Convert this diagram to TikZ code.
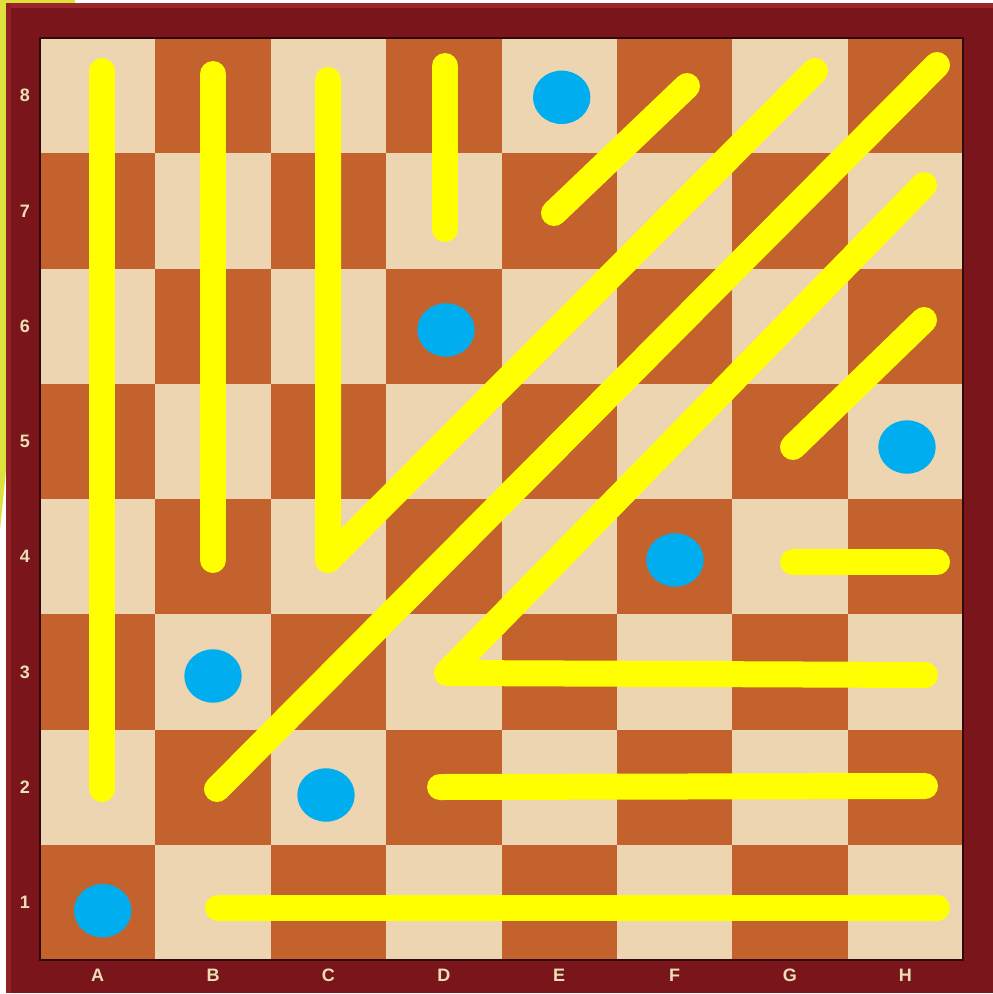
\documentclass[tikz,border=0pt]{standalone}
\usepackage{fontspec}
\setmainfont{Liberation Sans}
\definecolor{lightsq}{HTML}{EDD5B1}
\definecolor{darksq}{HTML}{C4622E}
\definecolor{framec}{HTML}{7A161B}
\definecolor{framelight}{HTML}{9A272C}
\definecolor{markc}{HTML}{FFFF00}
\definecolor{dotc}{HTML}{00AEEF}
\definecolor{edgeyellow}{HTML}{E0E03A}
\definecolor{labelc}{HTML}{EADFB6}
\begin{document}
\begin{tikzpicture}[x=1pt,y=-1pt,
  yline/.style={draw=markc, line width=26pt, line cap=round, line join=round},
  dotmark/.style={fill=dotc},
  lbl/.style={text=labelc, font=\fontsize{18}{18}\selectfont\bfseries, inner sep=0pt}]
\useasboundingbox (0,0) rectangle (993,994);
\fill[white] (0,0) rectangle (993,994);
\fill[edgeyellow] (0,0) -- (75,0) -- (75,3) -- (6,3) -- (6,470) -- (0,530) -- cycle;
\fill[framec] (6,3) rectangle (993,993);
\fill[framelight] (6,3) rectangle (993,8);
\fill[framelight!70!framec] (6,3) rectangle (11,993);
% squares
\foreach \i in {0,...,7}{
  \foreach \r in {1,...,8}{
    \pgfmathtruncatemacro{\sqpar}{mod(\i+\r,2)}
    \ifnum\sqpar=1
      \fill[darksq] ({40+\i*115.375},{38+(8-\r)*115.25}) rectangle ++(115.375,115.25);
    \else
      \fill[lightsq] ({40+\i*115.375},{38+(8-\r)*115.25}) rectangle ++(115.375,115.25);
    \fi
  }
}
\draw[black!60!framec, line width=1.5pt] (40,38) rectangle (963,960);
% labels
\foreach \l [count=\i from 0] in {A,B,C,D,E,F,G,H}
  \node[lbl] (file\l) at ({97.7+\i*115.375},975) {\l};
\foreach \r in {1,...,8}
  \node[lbl] (rank\r) at (25,{95.7+(8-\r)*115.25}) {\r};
% yellow lines
\draw[yline] (102,71) -- (102,789);
\draw[yline] (213,74) -- (213,560);
\draw[yline] (328,80) -- (328,560) -- (815,71);
\draw[yline] (445,66) -- (445,229);
\draw[yline] (554,213) -- (687,86);
\draw[yline] (217,789) -- (937,65);
\draw[yline] (924,185) -- (447,673) -- (925,675);
\draw[yline] (793,447) -- (924,320);
\draw[yline] (793,562) -- (937,562);
\draw[yline] (440,787) -- (925,786);
\draw[yline] (218,908) -- (937,908);
% blue dots
\foreach \x/\y in {561.7/97.3, 446/330, 907/447, 675/560, 213/676, 326/795, 102.7/910.7}
  \fill[dotmark] (\x,\y) ellipse [x radius=28.7, y radius=26.7];
\end{tikzpicture}
\end{document}
